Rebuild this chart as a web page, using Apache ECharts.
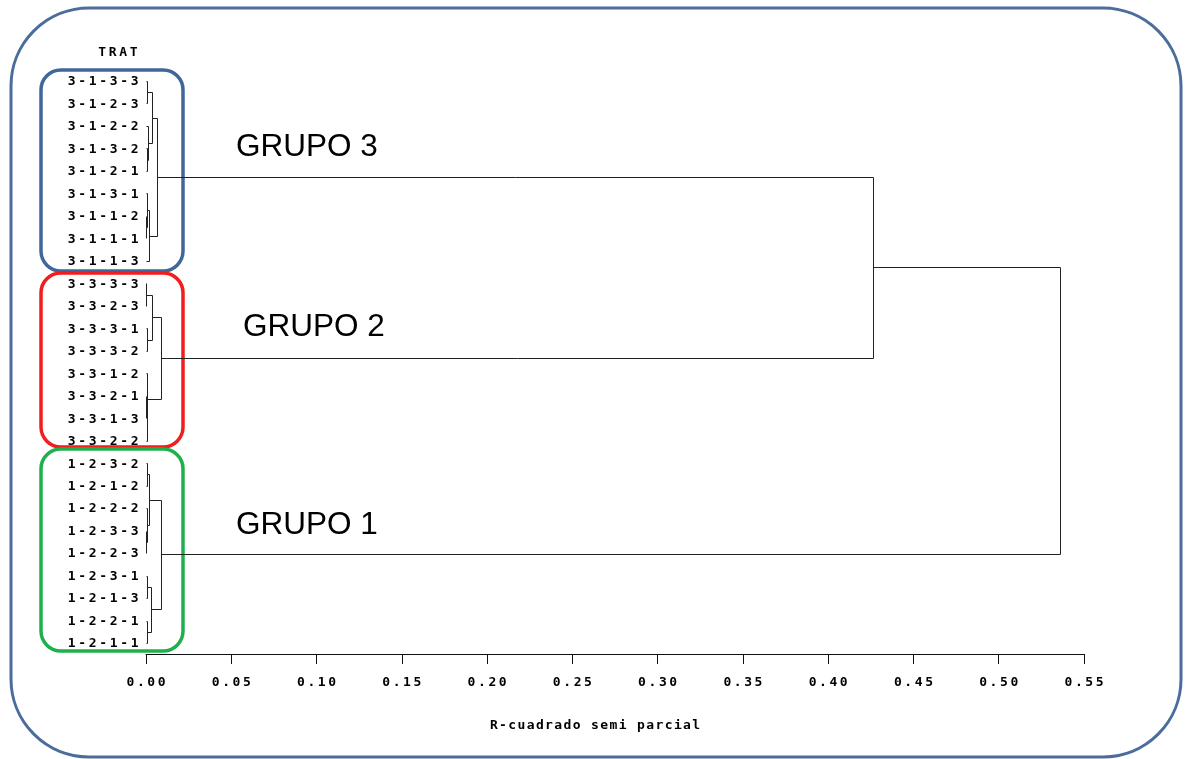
<!DOCTYPE html>
<html>
<head>
<meta charset="utf-8">
<title>Dendrograma TRAT</title>
<script src="https://cdn.jsdelivr.net/npm/echarts@6/dist/echarts.min.js"></script>
<style>
  html, body { margin: 0; padding: 0; background: #fff; }
  #chart { width: 1189px; height: 759px; }
</style>
</head>
<body>
<div id="chart"></div>
<script>
// Leaves of the tree, top to bottom
const leaves = [
  '3-1-3-3', '3-1-2-3', '3-1-2-2', '3-1-3-2', '3-1-2-1',
  '3-1-3-1', '3-1-1-2', '3-1-1-1', '3-1-1-3',
  '3-3-3-3', '3-3-2-3', '3-3-3-1', '3-3-3-2',
  '3-3-1-2', '3-3-2-1', '3-3-1-3', '3-3-2-2',
  '1-2-3-2', '1-2-1-2', '1-2-2-2', '1-2-3-3', '1-2-2-3',
  '1-2-3-1', '1-2-1-3', '1-2-2-1', '1-2-1-1'
];

// Joins: [left, right, semi-partial R-squared]
// indices below leaves.length are leaves; larger ones refer to earlier joins in order
const mergeLeft  = [0, 3, 2, 26, 6, 5, 31, 29,   9, 11, 34, 14, 37, 13, 36,   17, 20, 19, 41, 22, 24, 45, 44,   33, 49];
const mergeRight = [1, 4, 27, 28, 7, 30, 8, 32,  10, 12, 35, 15, 16, 38, 39,  18, 21, 42, 43, 23, 25, 46, 47,   40, 48];
const mergeHeight = [0.0006, 0.0004, 0.0012, 0.0035, 0.0002, 0.0005, 0.0015, 0.0063,
                     0.0002, 0.0004, 0.0035, 0.0002, 0.0004, 0.0006, 0.0088,
                     0.0003, 0.0002, 0.0004, 0.0019, 0.0003, 0.0003, 0.0030, 0.0088,
                     0.426, 0.536];

const groupNames = ['GRUPO 3', 'GRUPO 2', 'GRUPO 1'];
const axisTitle = 'R-cuadrado semi parcial';
const leafAxisTitle = 'TRAT';

// node position (row) and height, leaves first
const nodePos = leaves.map((_, i) => i);
const nodeH = leaves.map(() => 0);
const links = [];
mergeLeft.forEach((a, k) => {
  const b = mergeRight[k];
  const h = mergeHeight[k];
  links.push([nodeH[a], nodePos[a], h, nodePos[b], nodeH[b]]);
  nodePos.push((nodePos[a] + nodePos[b]) / 2);
  nodeH.push(h);
});

// fixed-pitch text, one rich token per character
function pitched(str, key) {
  return str.split('').map(ch => '{' + key + '|' + ch + '}').join('');
}
const monoFont = { fontFamily: 'DejaVu Sans Mono', fontWeight: 'bold', fontSize: 13, color: '#000' };

const chart = echarts.init(document.getElementById('chart'));

const option = {
  animation: false,
  backgroundColor: '#fff',
  grid: { left: 146, right: 105, top: 81, bottom: 105, containLabel: false },
  xAxis: {
    type: 'value',
    position: 'bottom',
    min: 0, max: 0.55, interval: 0.05,
    axisLine: { show: true, onZero: false, lineStyle: { color: '#111', width: 1 } },
    axisTick: { show: true, length: 10, lineStyle: { color: '#111' } },
    splitLine: { show: false },
    axisLabel: {
      margin: 22,
      formatter: v => pitched(v.toFixed(2), 't'),
      rich: { t: Object.assign({ width: 10.4, align: 'center' }, monoFont) }
    },
    name: pitched(axisTitle, 'n'),
    nameLocation: 'middle',
    nameGap: 65,
    nameTextStyle: {
      padding: [0, 40, 0, 0],
      rich: { n: Object.assign({ width: 9.2, align: 'center' }, monoFont) }
    }
  },
  yAxis: {
    type: 'value',
    inverse: true,
    min: 0, max: 25.49, interval: 1,
    axisLine: { show: false },
    axisTick: { show: false },
    splitLine: { show: false },
    axisLabel: {
      margin: 6,
      showMaxLabel: false,
      formatter: v => (Number.isInteger(v) && leaves[v]) ? pitched(leaves[v], 'l') : '',
      rich: { l: Object.assign({ width: 10.5, align: 'center', padding: [2, 0, 0, 0] }, monoFont) }
    }
  },
  series: [{
    type: 'custom',
    data: links,
    encode: { x: [0, 2, 4], y: [1, 3] },
    clip: false,
    silent: true,
    renderItem: function (params, api) {
      const snap = p => [Math.round(p[0]) + 0.5, Math.round(p[1]) + 0.5];
      const p1 = snap(api.coord([api.value(0), api.value(1)]));
      const p2 = snap(api.coord([api.value(2), api.value(1)]));
      const p3 = snap(api.coord([api.value(2), api.value(3)]));
      const p4 = snap(api.coord([api.value(4), api.value(3)]));
      return {
        type: 'polyline',
        shape: { points: [p1, p2, p3, p4] },
        style: { stroke: '#222', lineWidth: 1, fill: null }
      };
    }
  }],
  graphic: [
    // outer frame
    { type: 'rect', z: -10, shape: { x: 11, y: 8, width: 1170, height: 749, r: 78 },
      style: { fill: '#fff', stroke: '#4a6d9c', lineWidth: 3 } },
    // group frames
    { type: 'rect', shape: { x: 41, y: 70, width: 142, height: 201, r: 20 },
      style: { fill: null, stroke: '#41679a', lineWidth: 3.5 } },
    { type: 'rect', shape: { x: 41, y: 273, width: 142, height: 174, r: 20 },
      style: { fill: null, stroke: '#f21d1d', lineWidth: 3.5 } },
    { type: 'rect', shape: { x: 41, y: 449, width: 142, height: 202, r: 20 },
      style: { fill: null, stroke: '#1fb04c', lineWidth: 3.5 } },
    // group names
    { type: 'text', x: 236, y: 147,
      style: { text: groupNames[0], font: '31.5px "Liberation Sans"', fill: '#000', textVerticalAlign: 'middle' } },
    { type: 'text', x: 243, y: 327,
      style: { text: groupNames[1], font: '31.5px "Liberation Sans"', fill: '#000', textVerticalAlign: 'middle' } },
    { type: 'text', x: 236, y: 525,
      style: { text: groupNames[2], font: '31.5px "Liberation Sans"', fill: '#000', textVerticalAlign: 'middle' } },
    // leaf axis title
    { type: 'text', x: 118, y: 53,
      style: { text: pitched(leafAxisTitle, 'h'), align: 'center', verticalAlign: 'middle',
               rich: { h: { width: 10.5, align: 'center', font: 'bold 13px "DejaVu Sans Mono"', fill: '#000' } } } }
  ]
};

chart.setOption(option);
</script>
</body>
</html>
